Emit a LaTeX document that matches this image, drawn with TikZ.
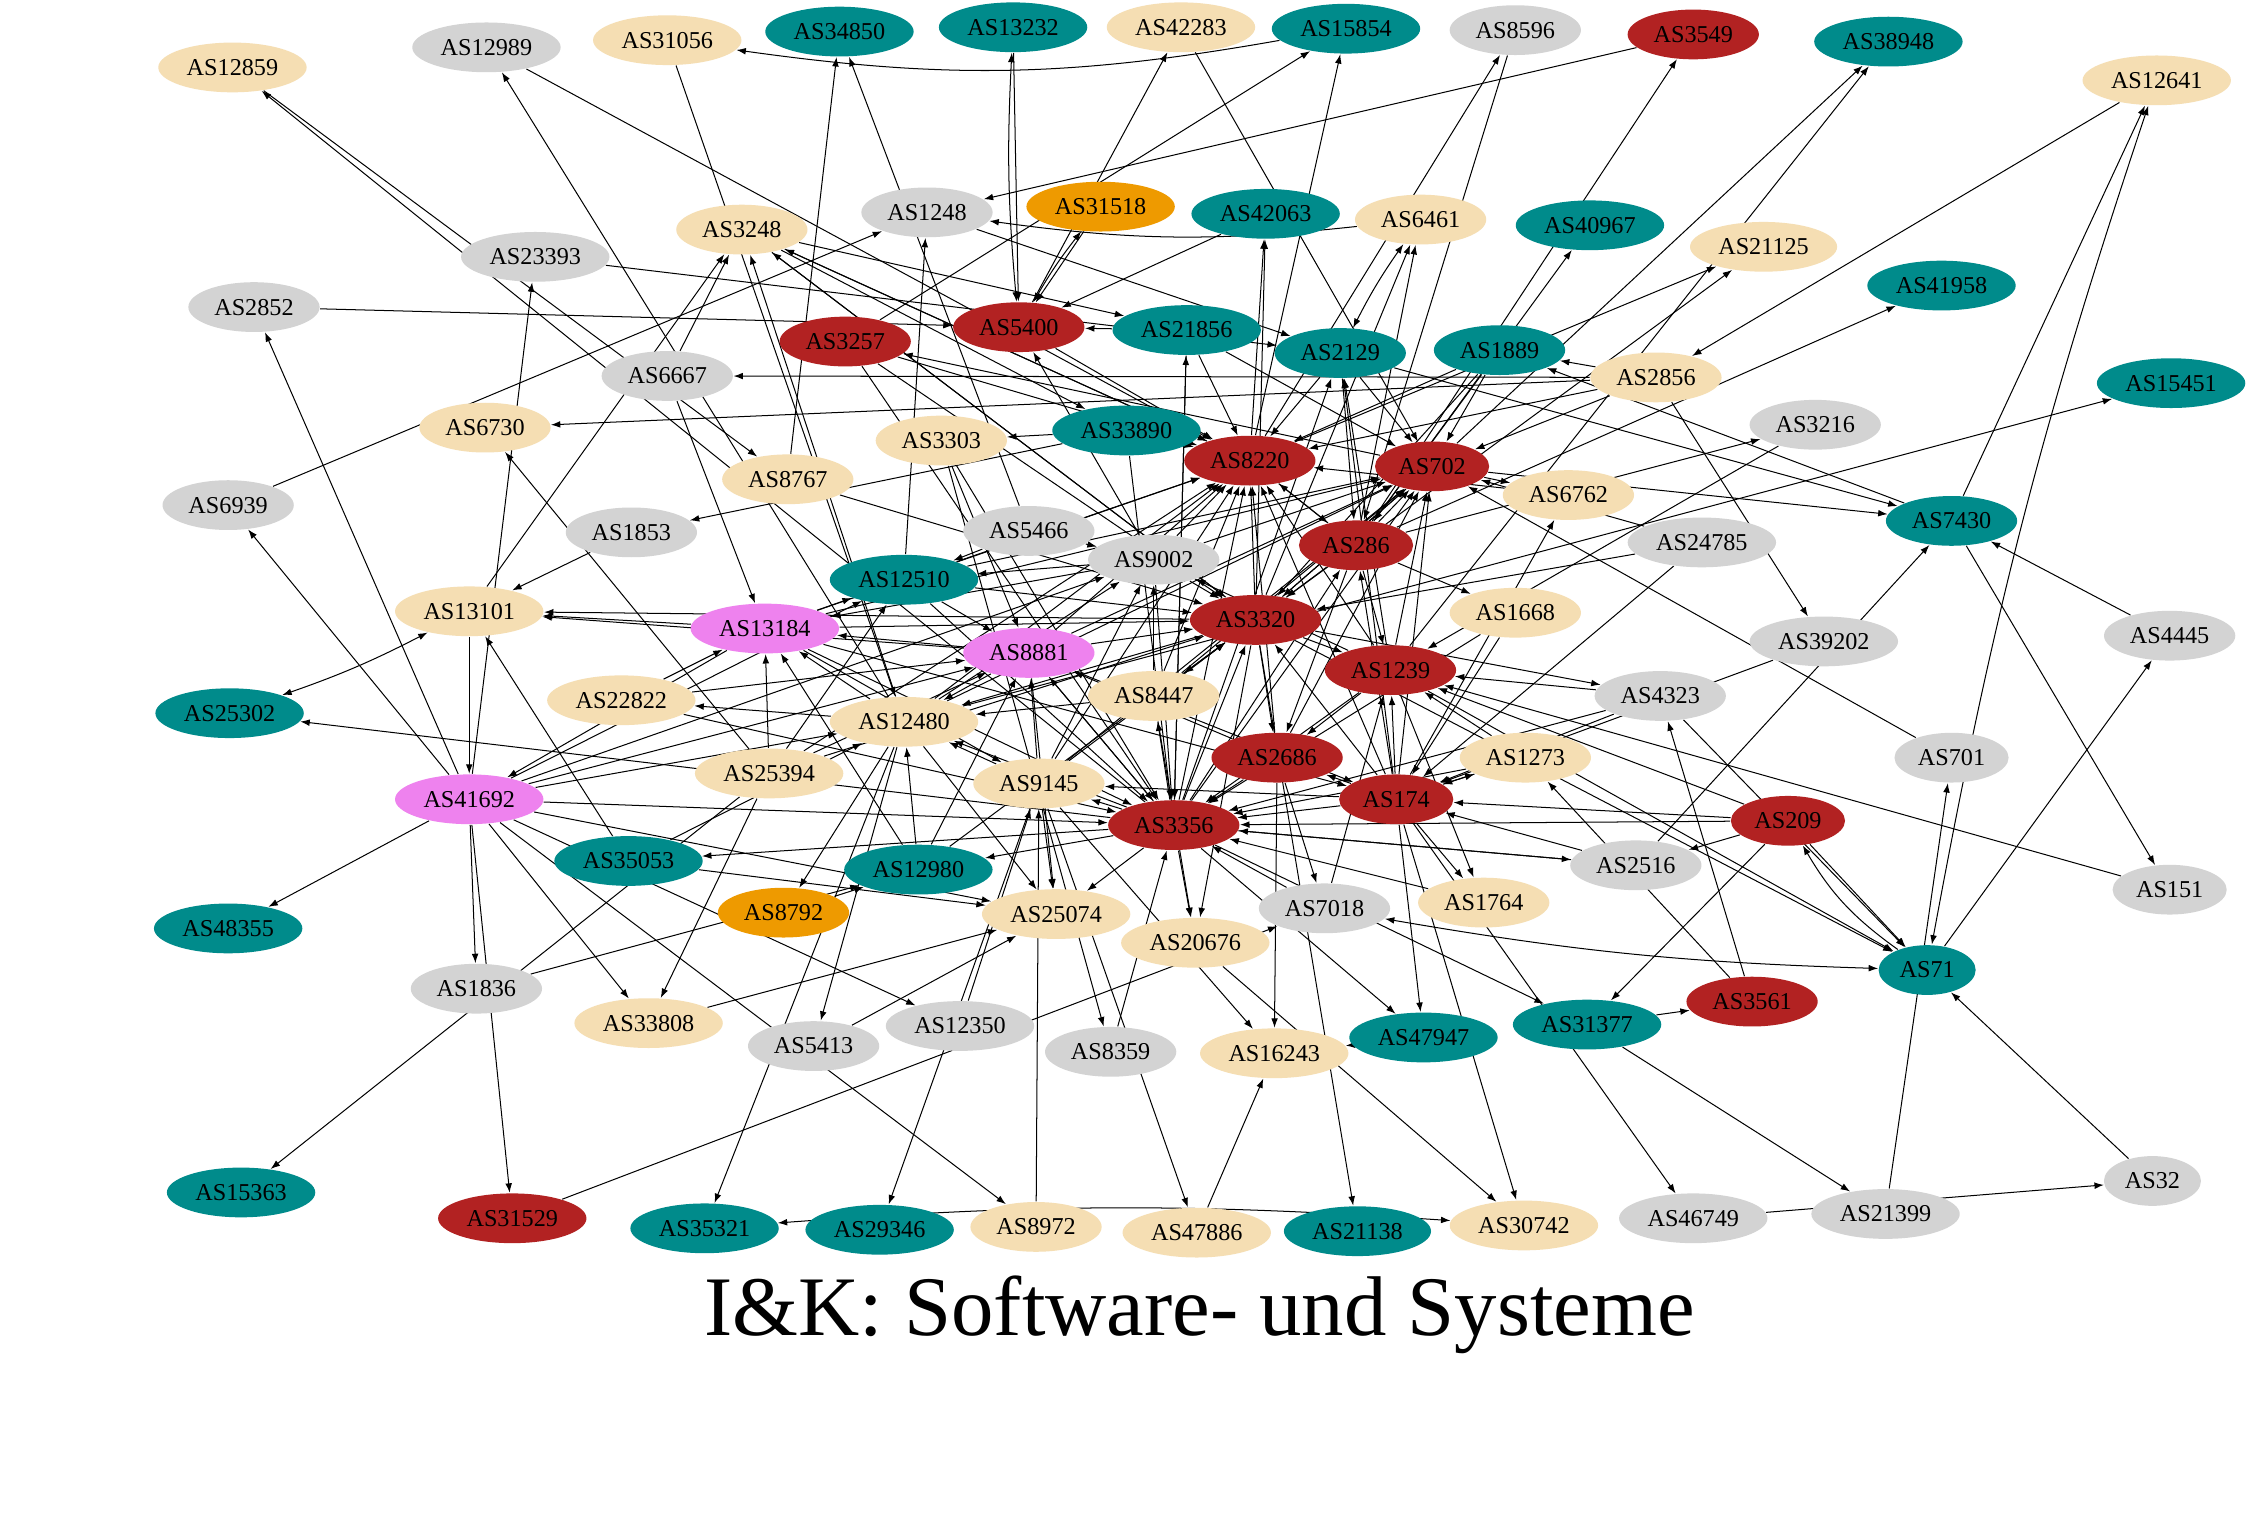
\documentclass[tikz,border=0pt]{standalone}
\usepackage{fontspec}
\setmainfont{Liberation Serif}
\usetikzlibrary{arrows.meta,shapes.geometric,backgrounds}
\definecolor{cteal}{RGB}{0,139,139}
\definecolor{cwheat}{RGB}{245,222,179}
\definecolor{cgray}{RGB}{211,211,211}
\definecolor{cred}{RGB}{178,34,34}
\definecolor{corange}{RGB}{238,154,0}
\definecolor{cviolet}{RGB}{238,130,238}
\newcommand\asnode[3]{\node[asn,fill=#1] (AS#2) at (#3) {AS#2};}
\begin{document}
\begin{tikzpicture}[x=0.15mm,y=-0.15mm,
  asn/.style={ellipse,draw=none,inner xsep=2pt,inner ysep=0.5pt,minimum height=5.2mm,minimum width=9.8mm,font=\fontsize{7.2}{8}\selectfont},
  e/.style={line width=0.3pt,-{Latex[length=2.8pt,width=2pt]}},
  ee/.style={line width=0.3pt,{Latex[length=2.8pt,width=2pt]}-{Latex[length=2.8pt,width=2pt]}}]
\useasboundingbox (0,0) rectangle (1568,1060);
% top rows
\asnode{cwheat}{12859}{162,47}
\asnode{cgray}{12989}{339,33}
\asnode{cwheat}{31056}{465,28}
\asnode{cteal}{34850}{585,22}
\asnode{cteal}{13232}{706,19}
\asnode{cwheat}{42283}{823,19}
\asnode{cteal}{15854}{938,20}
\asnode{cgray}{8596}{1056,21}
\asnode{cred}{3549}{1180,24}
\asnode{cteal}{38948}{1316,29}
\asnode{cwheat}{12641}{1503,56}
\asnode{cgray}{1248}{646,148}
\asnode{corange}{31518}{767,144}
\asnode{cteal}{42063}{882,149}
\asnode{cwheat}{6461}{990,153}
\asnode{cteal}{40967}{1108,157}
\asnode{cwheat}{21125}{1229,172}
\asnode{cteal}{41958}{1353,199}
\asnode{cwheat}{3248}{517,160}
\asnode{cgray}{23393}{373,179}
\asnode{cgray}{2852}{177,214}
\asnode{cred}{3257}{589,238}
\asnode{cred}{5400}{710,228}
\asnode{cteal}{21856}{827,230}
\asnode{cteal}{2129}{934,246}
\asnode{cteal}{1889}{1045,244}
\asnode{cwheat}{2856}{1154,263}
\asnode{cteal}{15451}{1513,267}
\asnode{cgray}{6667}{465,262}
\asnode{cwheat}{6730}{338,298}
\asnode{cwheat}{3303}{656,307}
\asnode{cteal}{33890}{785,300}
\asnode{cred}{8220}{871,321}
\asnode{cred}{702}{998,325}
\asnode{cgray}{3216}{1265,296}
\asnode{cgray}{6939}{159,352}
\asnode{cwheat}{8767}{549,334}
\asnode{cwheat}{6762}{1093,345}
\asnode{cteal}{7430}{1360,363}
\asnode{cgray}{1853}{440,371}
\asnode{cgray}{5466}{717,370}
\asnode{cgray}{9002}{804,390}
\asnode{cred}{286}{945,380}
\asnode{cgray}{24785}{1186,378}
\asnode{cwheat}{13101}{327,426}
\asnode{cteal}{12510}{630,404}
\asnode{cviolet}{13184}{533,438}
\asnode{cred}{3320}{875,432}
\asnode{cwheat}{1668}{1056,427}
\asnode{cgray}{4445}{1512,443}
\asnode{cgray}{39202}{1271,447}
\asnode{cviolet}{8881}{717,455}
\asnode{cred}{1239}{969,467}
\asnode{cteal}{25302}{160,497}
\asnode{cwheat}{22822}{433,488}
\asnode{cwheat}{12480}{630,503}
\asnode{cwheat}{8447}{804,485}
\asnode{cgray}{4323}{1157,485}
\asnode{cred}{2686}{890,528}
\asnode{cwheat}{1273}{1063,528}
\asnode{cgray}{701}{1360,528}
\asnode{cviolet}{41692}{327,557}
\asnode{cwheat}{25394}{536,539}
\asnode{cwheat}{9145}{724,546}
\asnode{cred}{174}{973,557}
\asnode{cred}{3356}{818,575}
\asnode{cred}{209}{1246,572}
\asnode{cteal}{35053}{438,600}
\asnode{cteal}{12980}{640,606}
\asnode{cgray}{2516}{1140,603}
\asnode{cgray}{151}{1512,620}
\asnode{cteal}{48355}{159,647}
\asnode{corange}{8792}{546,636}
\asnode{cwheat}{25074}{736,637}
\asnode{cgray}{7018}{923,633}
\asnode{cwheat}{1764}{1034,629}
\asnode{cwheat}{20676}{833,657}
\asnode{cteal}{71}{1343,676}
\asnode{cgray}{1836}{332,689}
\asnode{cwheat}{33808}{452,713}
\asnode{cgray}{5413}{567,729}
\asnode{cgray}{12350}{669,715}
\asnode{cgray}{8359}{774,733}
\asnode{cwheat}{16243}{888,734}
\asnode{cteal}{47947}{992,723}
\asnode{cteal}{31377}{1106,714}
\asnode{cred}{3561}{1221,698}
\asnode{cteal}{15363}{168,831}
\asnode{cred}{31529}{357,849}
\asnode{cteal}{35321}{491,856}
\asnode{cteal}{29346}{613,857}
\asnode{cwheat}{8972}{722,855}
\asnode{cwheat}{47886}{834,859}
\asnode{cteal}{21138}{946,858}
\asnode{cwheat}{30742}{1062,854}
\asnode{cgray}{46749}{1180,849}
\asnode{cgray}{21399}{1314,846}
\asnode{cgray}{32}{1500,823}
\begin{scope}[on background layer]
\fill[white] (0,0) rectangle (1568,1060);
\foreach \a/\b in {12859/8767,3356/12859,41692/2852,41692/6939,41692/23393,2852/5400,6939/1248,12480/12989,12989/8220,
31056/12480,8767/34850,5466/34850,5400/42283,42283/702,3257/15854,8220/15854,8220/8596,8596/286,
286/3549,3549/1248,702/38948,1239/38948,12641/2856,7430/12641,3320/21125,8220/21125,286/41958,12480/15451,
286/3216,2516/7430,4445/7430,7430/151,2856/39202,39202/174,21399/701,701/702,71/4445,151/1239,1239/71,3320/71,
4323/71,46749/32,32/71,31377/21399,31377/3561,3561/1273,3561/4323,174/46749,3356/31377,209/31377,174/30742,
3320/21138,47886/16243,9145/47886,2686/16243,9145/16243,174/47947,3356/47947,20676/30742,47947/16243,31529/7018,
2686/7018,174/1764,1239/1764,3356/2516,3356/20676,8447/20676,3320/20676,3303/8359,8359/3356,41692/8972,
8972/9145,9145/29346,12480/35321,41692/12350,12350/9145,12480/5413,5413/25074,41692/33808,25394/33808,
33808/25074,1836/12980,25394/15363,3356/35053,35053/25074,12480/25074,8881/25074,9145/25074,3356/25074,
1853/13101,13101/41692,35053/13101,3356/25302,25394/6730,2856/6730,2856/6667,6667/3248,6667/13184,13101/3248,
12480/3248,8220/3248,3320/3248,3248/21856,12510/1248,1248/2129,42063/5400,8220/42063,3320/42063,
3320/6461,286/6461,286/40967,21856/5400,3356/21856,7430/1889,2129/7430,13184/41692,41692/12510,41692/8881,
41692/9002,41692/12480,41692/3356,41692/48355,41692/1836,41692/31529,41692/25074,3257/8220,3257/3356,702/3257,
5400/8220,3248/33890,9002/5400,23393/2129,33890/8220,33890/3303,3303/8881,3303/3356,8767/3320,33890/1853,
9002/8220,9002/702,9002/3320,9002/13184,9002/12510,9002/3356,5466/9002,5466/12510,12510/8220,12510/3320,
12510/8881,12510/3356,12510/702,13184/8220,13184/3320,13184/3356,13184/12510,13184/9145,13184/13101,13184/702,
13184/174,8881/8220,8881/3320,8881/3356,8881/702,8881/12480,8881/13184,8881/174,8881/13101,22822/13184,
22822/3356,22822/8881,12480/8220,12480/9002,12480/13184,12480/22822,12480/702,8447/8220,8447/3320,8447/12480,
8447/9002,8447/702,25394/8220,25394/12510,25394/8881,25394/3320,25394/13184,9145/8220,9145/3320,9145/8881,
9145/12480,9145/702,9145/9002,3356/8220,3356/702,3356/3320,3356/286,3356/8881,3356/9145,3356/8447,3356/12480,
3356/2129,3356/12980,174/8220,174/702,174/3320,174/1239,174/3356,174/2686,174/286,174/1273,174/2129,174/9145,
174/6762,3320/8220,3320/702,3320/2686,3320/1239,3320/12480,3320/8447,3320/4323,3320/13101,1239/8220,1239/702,
1239/2686,1239/3356,1239/2129,1239/9002,286/8220,286/702,286/3320,286/1239,286/2686,286/1668,2686/8220,
2686/702,2686/3356,2686/8881,702/6762,702/3320,702/7430,8220/286,2129/8220,2129/702,2129/286,1889/8220,
1889/702,1889/3320,1889/286,2856/702,2856/1889,2856/8220,6762/8220,24785/702,24785/3320,24785/174,1668/174,
1668/3356,4323/1239,4323/3356,4323/174,1273/174,1273/3356,1273/1239,209/174,209/1239,209/3356,209/2516,
2516/174,2516/3356,7018/3356,7018/1239,1764/3356,12980/3320,12980/8881,12980/12480,12980/13184,35053/12480,
8792/12980,12480/8792,33890/3356,3257/3320,3248/8220,3248/3320,21856/8220,21856/702,21856/3356,3216/1239,
13232/5400,31518/5400,209/71}
  \draw[e] (AS\a) -- (AS\b);
\draw[e] (AS15854) to[bend left=9] (AS31056);
\draw[e] (AS6461) to[bend left=7] (AS1248);
\foreach \a/\b in {71/12641,71/7018,35321/30742,13101/25302,2129/6461,5400/13232,5400/31518}
  \draw[ee] (AS\a) to[bend left=4] (AS\b);
\foreach \a/\b in {71/209}
  \draw[e] (AS\a) to[bend left=12] (AS\b);
\end{scope}
\node[font=\fontsize{25.2}{30}\selectfont,anchor=base] (title) at (836,931) {I\&K: Software- und Systeme};
\end{tikzpicture}
\end{document}
